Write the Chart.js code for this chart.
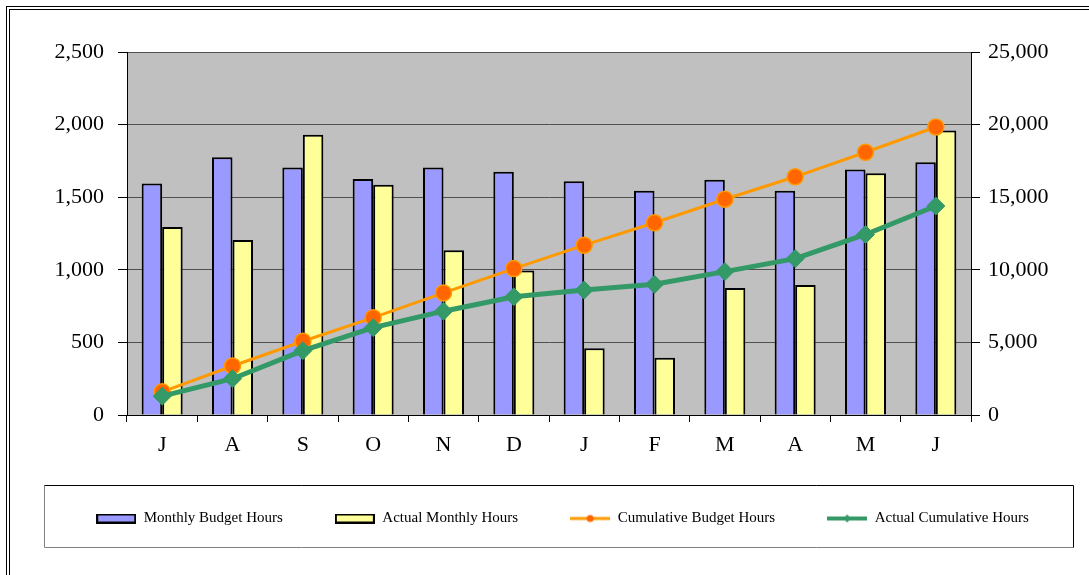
<!DOCTYPE html>
<html lang="en">
<head>
    <meta charset="utf-8">
    <title>Budget Hours</title>
    <script src="https://cdn.jsdelivr.net/npm/chart.js"></script>
    <style>
        body { margin: 0; background: #ffffff; }
        #wrap { width: 1089px; height: 575px; position: relative; }
    </style>
</head>
<body>

<div id="wrap">
    <canvas id="chart"></canvas>
</div>

<script>
var months = ['J', 'A', 'S', 'O', 'N', 'D', 'J', 'F', 'M', 'A', 'M', 'J'];
var monthlyBudget = [1595, 1775, 1705, 1625, 1705, 1675, 1610, 1545, 1620, 1545, 1690, 1740];
var actualMonthly = [1295, 1205, 1930, 1585, 1135, 995, 460, 395, 875, 895, 1665, 1960];
var cumulativeBudget = [1595, 3375, 5080, 6705, 8410, 10085, 11695, 13240, 14860, 16405, 18095, 19835];
var actualCumulative = [1295, 2500, 4430, 6015, 7150, 8145, 8605, 9000, 9875, 10770, 12435, 14395];

var serif = '"Liberation Serif", "DejaVu Serif", serif';

// little pictures for the legend keys
function barKey(fill) {
    var c = document.createElement('canvas');
    c.width = 40; c.height = 10;
    var g = c.getContext('2d');
    g.fillStyle = fill;
    g.fillRect(1, 1, 38, 8);
    g.strokeStyle = '#000000';
    g.lineWidth = 2;
    g.strokeRect(1, 1, 38, 8);
    return c;
}

function lineKey(color, markColor, diamond) {
    var c = document.createElement('canvas');
    c.width = 40; c.height = 12;
    var g = c.getContext('2d');
    g.strokeStyle = color;
    g.lineWidth = diamond ? 4 : 3;
    g.beginPath();
    g.moveTo(0, 6); g.lineTo(40, 6);
    g.stroke();
    g.fillStyle = markColor;
    g.beginPath();
    if (diamond) {
        g.moveTo(20, 2); g.lineTo(24, 6); g.lineTo(20, 10); g.lineTo(16, 6);
    } else {
        g.arc(20, 6, 3.5, 0, Math.PI * 2);
    }
    g.fill();
    return c;
}

var keys = [
    barKey('#9999FF'),
    barKey('#FFFF99'),
    lineKey('#FF9900', '#FF6600', false),
    lineKey('#339966', '#339966', true)
];

var plotBackground = {
    id: 'plotBackground',
    afterLayout: function(chart) {
        // nudge the legend row a little to the right
        chart.legend.left += 18;
        chart.legend.right += 18;
    },
    beforeDraw: function(chart) {
        var ctx = chart.ctx, a = chart.chartArea;
        ctx.save();
        ctx.fillStyle = '#C0C0C0';
        ctx.fillRect(a.left, a.top, a.right - a.left, a.bottom - a.top);
        ctx.strokeStyle = '#808080';
        ctx.lineWidth = 1;
        ctx.beginPath();
        ctx.moveTo(a.left, a.top + 0.5);
        ctx.lineTo(a.right, a.top + 0.5);
        ctx.stroke();
        ctx.restore();
    },
    afterDraw: function(chart) {
        var ctx = chart.ctx;
        ctx.save();
        ctx.lineWidth = 1;
        ctx.strokeStyle = '#000000';
        // outer frame (double line)
        ctx.strokeRect(6.5, 6.5, 1200, 1200);
        ctx.strokeRect(9.5, 9.5, 1200, 1200);
        // legend frame
        ctx.strokeStyle = '#808080';
        ctx.beginPath();
        ctx.moveTo(44.5, 485.5); ctx.lineTo(44.5, 547.5); ctx.lineTo(1073.5, 547.5);
        ctx.stroke();
        ctx.strokeStyle = '#000000';
        ctx.beginPath();
        ctx.moveTo(44.5, 485.5); ctx.lineTo(1073.5, 485.5); ctx.lineTo(1073.5, 547.5);
        ctx.stroke();
        ctx.restore();
    }
};

function commas(v) {
    return Number(v).toLocaleString('en-US');
}

var ctx = document.getElementById('chart').getContext('2d');
var myChart = new Chart(ctx, {
    type: 'bar',
    data: {
        labels: months,
        datasets: [{
            label: 'Monthly Budget Hours',
            data: monthlyBudget,
            backgroundColor: '#9999FF',
            borderColor: '#000000',
            borderWidth: 2,
            yAxisID: 'y',
            order: 2
        }, {
            label: 'Actual Monthly Hours',
            data: actualMonthly,
            backgroundColor: '#FFFF99',
            borderColor: '#000000',
            borderWidth: 2,
            yAxisID: 'y',
            order: 2
        }, {
            type: 'line',
            label: 'Cumulative Budget Hours',
            data: cumulativeBudget,
            borderColor: '#FF9900',
            borderWidth: 3,
            pointStyle: 'circle',
            pointRadius: 8,
            pointBackgroundColor: '#FF6600',
            pointBorderColor: '#FF9900',
            pointBorderWidth: 1.5,
            yAxisID: 'y2',
            order: 1
        }, {
            type: 'line',
            label: 'Actual Cumulative Hours',
            data: actualCumulative,
            borderColor: '#339966',
            borderWidth: 5,
            pointStyle: 'rectRot',
            pointRadius: 9,
            pointBackgroundColor: '#339966',
            pointBorderColor: '#339966',
            pointBorderWidth: 1,
            yAxisID: 'y2',
            order: 0
        }]
    },
    options: {
        responsive: true,
        maintainAspectRatio: false,
        animation: false,
        datasets: {
            bar: { categoryPercentage: 0.583, barPercentage: 1.0 }
        },
        layout: { padding: { top: 52, left: 0, right: 0, bottom: 39 } },
        plugins: {
            tooltip: { enabled: false },
            legend: {
                position: 'bottom',
                labels: {
                    usePointStyle: true,
                    pointStyleWidth: 40,
                    padding: 52,
                    color: '#000000',
                    font: { family: serif, size: 15 },
                    generateLabels: function(chart) {
                        return chart.data.datasets.map(function(ds, i) {
                            return {
                                text: ds.label,
                                pointStyle: keys[i],
                                datasetIndex: i,
                                hidden: false,
                                lineWidth: 0,
                                fillStyle: 'transparent',
                                strokeStyle: 'transparent',
                                fontColor: '#000000'
                            };
                        });
                    }
                }
            }
        },
        scales: {
            x: {
                afterFit: function(scale) { scale.height = 44; },
                grid: {
                    offset: true,
                    drawOnChartArea: false,
                    drawTicks: true,
                    tickLength: 7,
                    tickColor: '#000000'
                },
                border: { color: '#000000', width: 1 },
                ticks: {
                    color: '#000000',
                    padding: 10,
                    font: { family: serif, size: 22 }
                }
            },
            y: {
                position: 'left',
                min: 0,
                max: 2500,
                afterFit: function(scale) { scale.width = 127; },
                grid: {
                    color: '#505050',
                    lineWidth: 1,
                    tickLength: 9,
                    tickColor: '#000000'
                },
                border: { color: '#000000', width: 1 },
                ticks: {
                    stepSize: 500,
                    color: '#000000',
                    padding: 14,
                    font: { family: serif, size: 22 },
                    callback: commas
                }
            },
            y2: {
                position: 'right',
                min: 0,
                max: 25000,
                afterFit: function(scale) { scale.width = 118; },
                grid: {
                    drawOnChartArea: false,
                    tickLength: 9,
                    tickColor: '#000000'
                },
                border: { color: '#000000', width: 1 },
                ticks: {
                    stepSize: 5000,
                    color: '#000000',
                    padding: 8,
                    font: { family: serif, size: 22 },
                    callback: commas
                }
            }
        }
    },
    plugins: [plotBackground]
});
</script>

</body>
</html>
